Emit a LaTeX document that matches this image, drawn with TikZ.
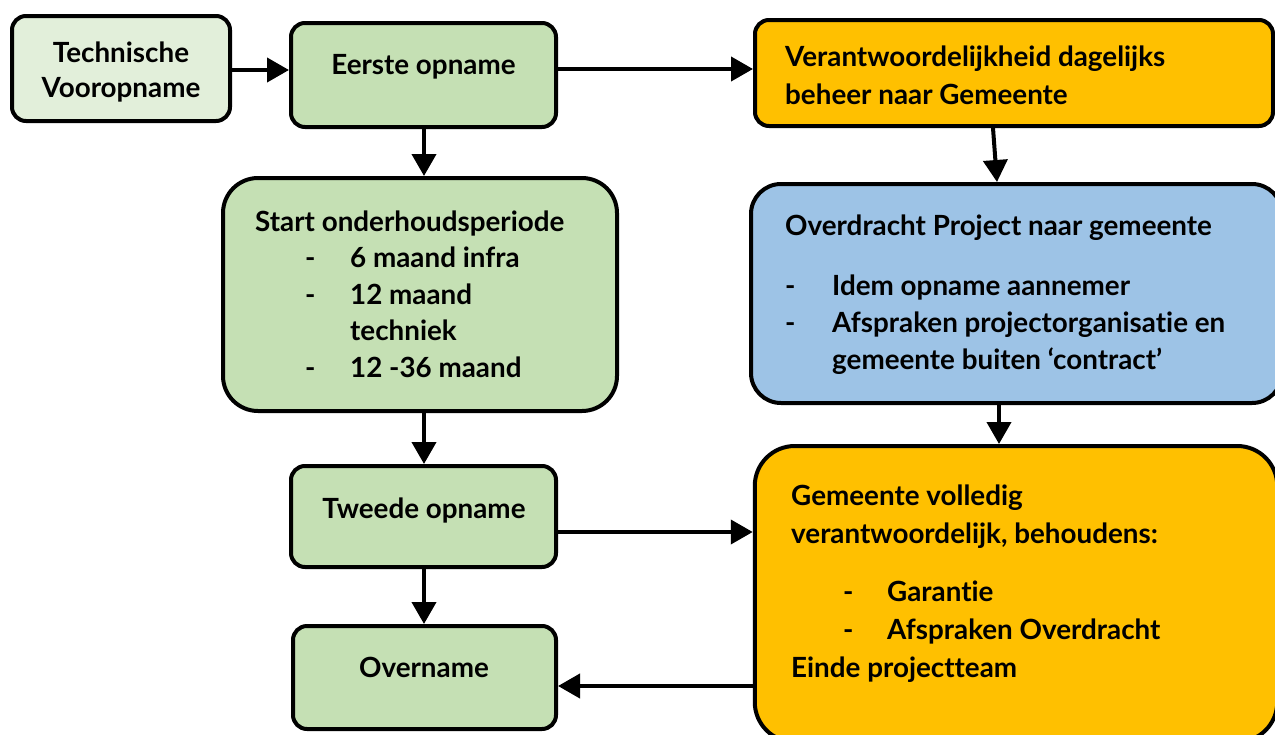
\documentclass[tikz,border=0pt]{standalone}
\usepackage{fontspec}
\setmainfont{Lato}[UprightFont=* Bold,Ligatures=NoCommon]
\usetikzlibrary{arrows.meta}
\definecolor{lgreen}{HTML}{E2EFDA}
\definecolor{mgreen}{HTML}{C5E0B4}
\definecolor{orng}{HTML}{FFC000}
\definecolor{lblue}{HTML}{9DC3E6}
\newcommand{\dsh}[2]{\hspace*{#1}\makebox[#2][l]{-}}
\begin{document}
\begin{tikzpicture}[x=1pt,y=-1pt,
  box/.style={draw=black,line width=4pt,inner sep=0pt},
  arr/.style={line width=4pt,-{Triangle[length=22pt,width=24pt]}},
  txt/.style={inner sep=0pt,font=\fontsize{27.8}{37}\selectfont},
  ]
\useasboundingbox (0,0) rectangle (1275,734);
% boxes
\node[box,fill=lgreen,rounded corners=14pt,minimum width=218pt,minimum height=105pt] (tv) at (121,68.5) {};
\node[box,fill=mgreen,rounded corners=14pt,minimum width=265pt,minimum height=104pt] (eerste) at (423.5,75) {};
\node[box,fill=orng,rounded corners=14pt,minimum width=518pt,minimum height=106pt] (verant) at (1014,73) {};
\node[box,fill=mgreen,rounded corners=35pt,minimum width=394pt,minimum height=233pt] (start) at (420,294.5) {};
\node[box,fill=lblue,rounded corners=30pt,minimum width=531pt,minimum height=219pt] (overd) at (1016.5,293.5) {};
\node[box,fill=mgreen,rounded corners=14pt,minimum width=265pt,minimum height=101pt] (tweede) at (423.5,516.5) {};
\node[box,fill=mgreen,rounded corners=14pt,minimum width=263pt,minimum height=103pt] (overname) at (424.5,677.5) {};
\node[box,fill=orng,rounded corners=40pt,minimum width=522.5pt,minimum height=296pt] (gem) at (1016,594) {};
% texts
\node[txt,anchor=base] (ttv) at (121,62) {\parbox[t]{210pt}{\centering\baselineskip=35pt Technische\\Vooropname}};
\node[txt,anchor=base] (teerste) at (423.5,74) {Eerste opname};
\node[txt,anchor=base west] (tverant) at (785,66) {\parbox[t]{480pt}{\baselineskip=38pt Verantwoordelijkheid dagelijks\\beheer naar Gemeente}};
\node[txt,anchor=base west] (tstart) at (255,231) {\parbox[t]{360pt}{\baselineskip=36.5pt Start onderhoudsperiode\\
\dsh{50pt}{45pt}6 maand infra\\
\dsh{50pt}{45pt}12 maand\\
\hspace*{95pt}techniek\\
\dsh{50pt}{45pt}12 -36 maand}};
\node[txt,anchor=base west] (toverd) at (785,235) {\parbox[t]{480pt}{\baselineskip=37pt Overdracht Project naar gemeente\\[23pt]
\dsh{0pt}{47pt}Idem opname aannemer\\
\dsh{0pt}{47pt}Afspraken projectorganisatie en\\
\hspace*{47pt}gemeente buiten ‘contract’}};
\node[txt,anchor=base] (ttweede) at (424,518) {Tweede opname};
\node[txt,anchor=base] (tovername) at (424,677) {Overname};
\node[txt,anchor=base west] (tgem) at (791,505) {\parbox[t]{480pt}{\baselineskip=38pt Gemeente volledig\\
verantwoordelijk, behoudens:\\[20pt]
\dsh{52pt}{44pt}Garantie\\
\dsh{52pt}{44pt}Afspraken Overdracht\\
Einde projectteam}};
% helper coordinates
\coordinate (y70) at (0,70);
\coordinate (y69) at (0,69);
\coordinate (x424) at (424,0);
\coordinate (x993) at (993,0);
\coordinate (x997) at (997,0);
\coordinate (x999) at (999,0);
\coordinate (y532) at (0,532);
\coordinate (y686) at (0,686);
% connectors
\draw[arr] (tv.east |- y70) -- (eerste.west |- y70);
\draw[arr] (eerste.east |- y69) -- (verant.west |- y69);
\draw[arr] (eerste.south -| x424) -- (start.north -| x424);
\draw[arr] (start.south -| x424) -- (tweede.north -| x424);
\draw[arr] (tweede.south -| x424) -- (overname.north -| x424);
\draw[arr] (tweede.east |- y532) -- (gem.west |- y532);
\draw[arr] (gem.west |- y686) -- (overname.east |- y686);
\draw[arr] (verant.south -| x993) -- (overd.north -| x997);
\draw[arr] (overd.south -| x999) -- (gem.north -| x999);
\end{tikzpicture}
\end{document}
